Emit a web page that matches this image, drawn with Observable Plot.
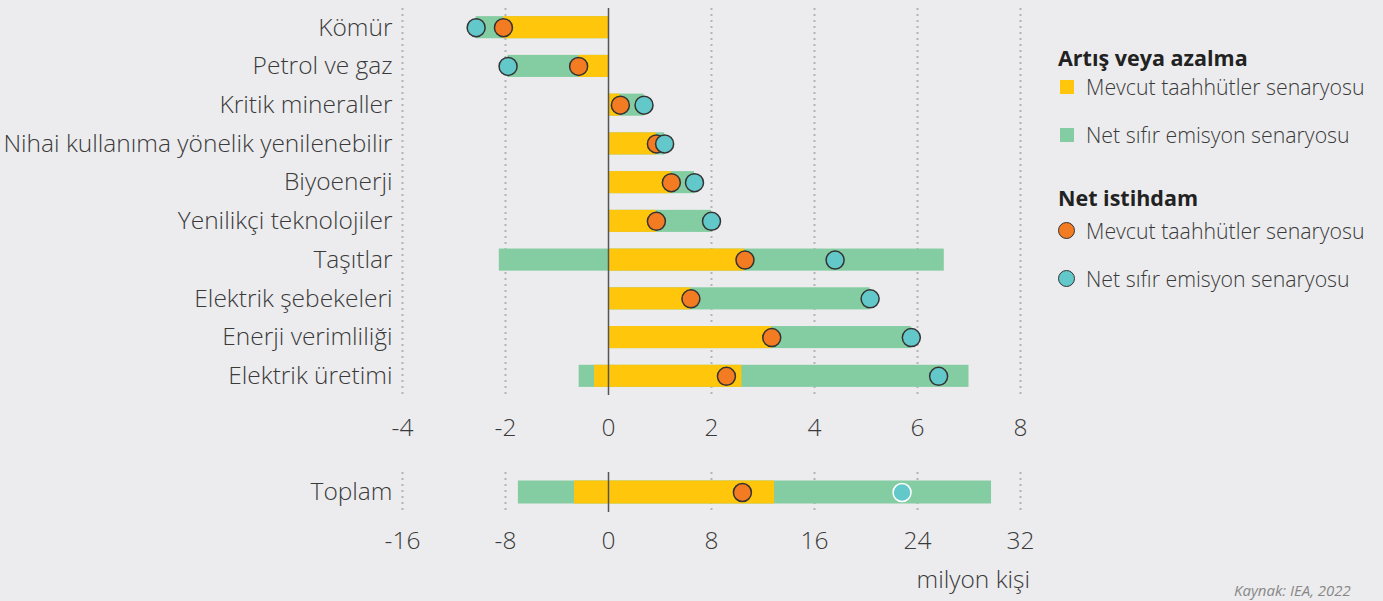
<!DOCTYPE html>
<html>
<head>
<meta charset="utf-8">
<script src="https://cdn.jsdelivr.net/npm/d3@7"></script>
<script src="https://cdn.jsdelivr.net/npm/@observablehq/plot@0.6"></script>
<style>
  html, body { margin: 0; padding: 0; background: #ECECEE; }
  #wrap { position: relative; width: 1383px; height: 601px; overflow: hidden; background: #ECECEE;
          font-family: "Open Sans", Lato, sans-serif; color: #3a3a3a; }
  #top, #bottom { position: absolute; left: 0; }
  #top { top: 0; }
  #bottom { top: 460px; }
  .legend { position: absolute; left: 1058px; top: 43px; font-size: 21.3px; font-weight: 300; }
  .legend .ttl { font-weight: 700; font-size: 21.5px; color: #222; height: 30px; line-height: 30px; }
  .legend .item { position: relative; height: 48px; line-height: 28px; padding-left: 28px; white-space: nowrap; }
  .legend .sw { position: absolute; left: 2px; top: 7px; width: 14px; height: 14px; }
  .legend .dot { position: absolute; left: 0; top: 5px; width: 15px; height: 15px; border-radius: 50%; border: 1.5px solid #333; }
  #unit { position: absolute; right: 353px; top: 562px; font-size: 24.5px; font-weight: 300; }
  #src { position: absolute; left: 1234px; top: 580px; font-size: 15px; font-style: italic; color: #888; }
</style>
</head>
<body>
<div id="wrap">
  <div id="top"></div>
  <div id="bottom"></div>
  <div class="legend" id="legend"></div>
  <div id="unit">milyon kişi</div>
  <div id="src">Kaynak: IEA, 2022</div>
</div>
<script>
// ---- data ----
const categories = ["Kömür", "Petrol ve gaz", "Kritik mineraller", "Nihai kullanıma yönelik yenilenebilir", "Biyoenerji", "Yenilikçi teknolojiler", "Taşıtlar", "Elektrik şebekeleri", "Enerji verimliliği", "Elektrik üretimi"];
const stepsIncrease = [0, 0, 0.23, 0.93, 1.22, 0.93, 2.65, 1.6, 3.17, 2.59];
const stepsDecrease = [-2.04, -0.58, 0, 0, 0, 0, 0, 0, 0, -0.27];
const nzeIncrease = [0, 0, 0.69, 1.09, 1.67, 2.0, 6.52, 5.08, 5.88, 7.0];
const nzeDecrease = [-2.57, -1.95, 0, 0, 0, 0, -2.12, 0, 0, -0.57];
const stepsNet = [-2.04, -0.58, 0.23, 0.93, 1.22, 0.93, 2.65, 1.6, 3.17, 2.29];
const nzeNet = [-2.57, -1.95, 0.69, 1.09, 1.67, 2.0, 4.4, 5.08, 5.88, 6.41];

const totalCategory = ["Toplam"];
const totalStepsIncrease = [12.9];
const totalStepsDecrease = [-2.64];
const totalNzeIncrease = [29.75];
const totalNzeDecrease = [-7.0];
const totalStepsNet = [10.4];
const totalNzeNet = [22.8];

const topTicks = [-4, -2, 0, 2, 4, 6, 8];
const bottomTicks = [-16, -8, 0, 8, 16, 24, 32];

const legendGroups = [
  {title: "Artış veya azalma", kind: "sw", items: ["Mevcut taahhütler senaryosu", "Net sıfır emisyon senaryosu"]},
  {title: "Net istihdam", kind: "dot", items: ["Mevcut taahhütler senaryosu", "Net sıfır emisyon senaryosu"]}
];

// ---- styles ----
const YELLOW = "#FFC60B", GREEN = "#84CCA1", ORANGE = "#F37B21", TEAL = "#62C8C9";
const FONT = "'Open Sans', Lato, sans-serif";
const FS = 24.5;

function rowsOf(cats, si, sd, ni, nd, sn, nn) {
  return cats.map((c, i) => ({cat: c, si: si[i], sd: sd[i], ni: ni[i], nd: nd[i], sn: sn[i], nn: nn[i]}));
}
const rows = rowsOf(categories, stepsIncrease, stepsDecrease, nzeIncrease, nzeDecrease, stepsNet, nzeNet);
const totalRows = rowsOf(totalCategory, totalStepsIncrease, totalStepsDecrease, totalNzeIncrease, totalNzeDecrease, totalStepsNet, totalNzeNet);

function panel(data, cfg) {
  return Plot.plot({
    width: 1040,
    height: cfg.height,
    marginLeft: 402,
    marginRight: 20,
    marginTop: cfg.marginTop,
    marginBottom: cfg.marginBottom,
    style: {background: "transparent", fontFamily: FONT, fontSize: FS + "px", color: "#3a3a3a", fontWeight: 300, overflow: "visible"},
    x: {domain: cfg.domain, ticks: cfg.ticks, tickFormat: d => String(d), label: null},
    y: {domain: data.map(d => d.cat), paddingInner: cfg.pi, paddingOuter: cfg.po, round: false, label: null},
    marks: [
      Plot.ruleX(cfg.ticks.filter(d => d !== 0), {stroke: "#b3b3b3", strokeWidth: 2, strokeDasharray: "2,4"}),
      Plot.axisX({ticks: cfg.ticks, tickSize: 0, tickPadding: cfg.tickPad, tickFormat: d => String(d), label: null, fontSize: FS}),
      Plot.axisY({tickSize: 0, tickPadding: 10, label: null, fontSize: FS}),
      Plot.barX(data, {y: "cat", x1: 0, x2: "ni", fill: GREEN}),
      Plot.barX(data, {y: "cat", x1: 0, x2: "nd", fill: GREEN}),
      Plot.barX(data, {y: "cat", x1: 0, x2: "si", fill: YELLOW}),
      Plot.barX(data, {y: "cat", x1: 0, x2: "sd", fill: YELLOW}),
      Plot.ruleX([0], {stroke: "#555", strokeWidth: 1.5}),
      Plot.dot(data, {y: "cat", x: "sn", r: 9, fill: ORANGE, stroke: "#333", strokeWidth: 1.5}),
      Plot.dot(data, {y: "cat", x: "nn", r: 9, fill: TEAL, stroke: cfg.tealStroke, strokeWidth: 1.5})
    ]
  });
}

document.getElementById("top").append(panel(rows, {
  height: 441, marginTop: 8, marginBottom: 46, domain: [-4, 8], ticks: topTicks,
  pi: 0.43, po: 0.21, tickPad: 23, tealStroke: "#333"
}));
document.getElementById("bottom").append(panel(totalRows, {
  height: 97, marginTop: 12, marginBottom: 45, domain: [-16, 32], ticks: bottomTicks,
  pi: 0.27, po: 0.27, tickPad: 19, tealStroke: "#fff"
}));

// legend
const swColors = [YELLOW, GREEN], dotColors = [ORANGE, TEAL];
const leg = document.getElementById("legend");
legendGroups.forEach((g, gi) => {
  const t = document.createElement("div");
  t.className = "ttl"; t.textContent = g.title;
  if (gi > 0) { t.style.marginTop = "14px"; t.style.marginBottom = "4px"; }
  leg.append(t);
  g.items.forEach((it, i) => {
    const d = document.createElement("div");
    d.className = "item";
    const m = document.createElement("span");
    m.className = g.kind;
    m.style.background = (g.kind === "sw" ? swColors : dotColors)[i];
    d.append(m);
    d.append(document.createTextNode(it));
    leg.append(d);
  });
});
</script>
</body>
</html>
